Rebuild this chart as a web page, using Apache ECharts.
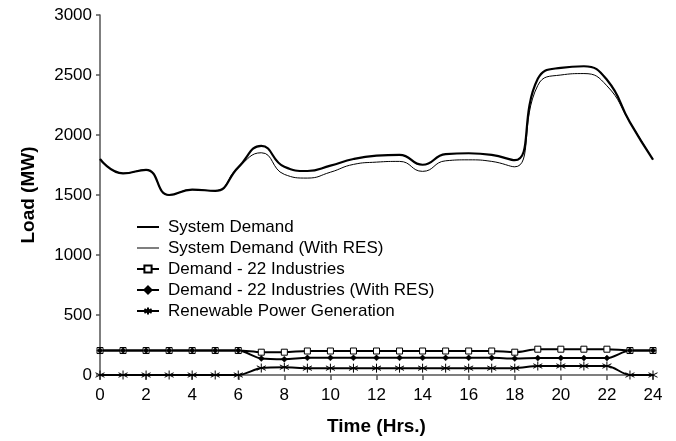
<!DOCTYPE html>
<html><head><meta charset="utf-8">
<script src="https://cdn.jsdelivr.net/npm/echarts@6/dist/echarts.min.js"></script>
<style>html,body{margin:0;padding:0;background:#fff}#c{width:676px;height:441px}</style>
</head><body><div id="c"></div>
<script>
const hours = [0,1,2,3,4,5,6,7,8,9,10,11,12,13,14,15,16,17,18,19,20,21,22,23,24];
const systemDemand = [1800,1680,1710,1500,1545,1535,1730,1910,1735,1700,1745,1800,1828,1835,1752,1840,1848,1835,1790,2468,2560,2573,2460,2105,1795];
const systemDemandRES = [1800,1680,1710,1500,1545,1535,1730,1852,1672,1641,1690,1755,1774,1780,1697,1785,1793,1780,1735,2413,2500,2512,2410,2105,1795];
const industries = [204,204,204,204,204,204,204,190,190,200,200,200,200,200,200,200,200,200,190,215,215,215,215,204,204];
const industriesRES = [204,204,204,204,204,204,204,138,132,143,143,143,143,143,143,143,143,143,138,141,141,141,141,204,204];
const renewable = [0,0,0,0,0,0,0,58,65,57,57,57,57,57,57,57,57,57,57,75,75,75,75,0,0];
const seriesNames = ['System Demand','System Demand (With RES)','Demand - 22 Industries','Demand - 22 Industries (With RES)','Renewable Power Generation'];

const pairs = arr => hours.map((h,i)=>[h,arr[i]]);
const FONT = 'Liberation Sans, Arial, sans-serif';
const asterisk = 'path://M0,-5L0,5M-4.33,-2.5L4.33,2.5M-4.33,2.5L4.33,-2.5';
const thickLineIcon = 'path://M0,0H0.01V9H0Z M0,3.5H22V5.5H0Z';
const thinLineIcon = 'path://M0,0H0.01V9H0Z M0,4H22V5H0Z';

const chart = echarts.init(document.getElementById('c'));
chart.setOption({
  animation:false,
  backgroundColor:'#fff',
  grid:{left:100,right:23,top:15,bottom:63},
  legend:{
    orient:'vertical', left:136, top:218, padding:0, itemWidth:22, itemHeight:9, itemGap:3,
    textStyle:{fontFamily:FONT,fontSize:17,color:'#000',lineHeight:18,padding:[0,0,0,4]},
    data:[
      {name:seriesNames[0],icon:thickLineIcon},
      {name:seriesNames[1],icon:thinLineIcon},
      seriesNames[2],seriesNames[3],seriesNames[4]
    ]
  },
  xAxis:{
    type:'value', min:0, max:24, interval:2,
    name:'Time (Hrs.)', nameLocation:'middle', nameGap:42,
    nameTextStyle:{fontFamily:FONT,fontSize:19,fontWeight:'bold',color:'#000'},
    axisLine:{lineStyle:{color:'#555',width:1.5}},
    axisTick:{show:true,inside:false,length:5,lineStyle:{color:'#555',width:1.5}},
    axisLabel:{fontFamily:FONT,fontSize:17,color:'#000',margin:12},
    splitLine:{show:false}
  },
  yAxis:{
    type:'value', min:0, max:3000, interval:500,
    name:'Load (MW)', nameLocation:'middle', nameGap:62, nameRotate:90,
    nameTextStyle:{fontFamily:FONT,fontSize:19,fontWeight:'bold',color:'#000'},
    axisLine:{show:true,lineStyle:{color:'#555',width:1.5}},
    axisTick:{show:true,length:4,lineStyle:{color:'#555',width:1.5}},
    axisLabel:{fontFamily:FONT,fontSize:17,color:'#000',margin:8,formatter:v=>String(v)},
    splitLine:{show:false}
  },
  series:[
    {name:seriesNames[0],type:'line',data:pairs(systemDemand),smooth:0.5,showSymbol:false,symbol:'none',
     lineStyle:{color:'#000',width:2.2},itemStyle:{color:'#000'}},
    {name:seriesNames[1],type:'line',data:pairs(systemDemandRES),smooth:0.5,showSymbol:false,symbol:'none',
     lineStyle:{color:'#000',width:1},itemStyle:{color:'#000'}},
    {name:seriesNames[2],type:'line',data:pairs(industries),smooth:0.3,symbol:'rect',symbolSize:6,
     lineStyle:{color:'#000',width:2},itemStyle:{color:'#fff',borderColor:'#000',borderWidth:1}},
    {name:seriesNames[3],type:'line',data:pairs(industriesRES),smooth:0.3,symbol:'diamond',symbolSize:6,
     lineStyle:{color:'#000',width:2},itemStyle:{color:'#000',borderColor:'#000',borderWidth:0.5}},
    {name:seriesNames[4],type:'line',data:pairs(renewable),smooth:0.3,symbol:asterisk,symbolSize:9,
     lineStyle:{color:'#000',width:2},itemStyle:{color:'#000',borderColor:'#000',borderWidth:1}}
  ]
});
</script></body></html>
